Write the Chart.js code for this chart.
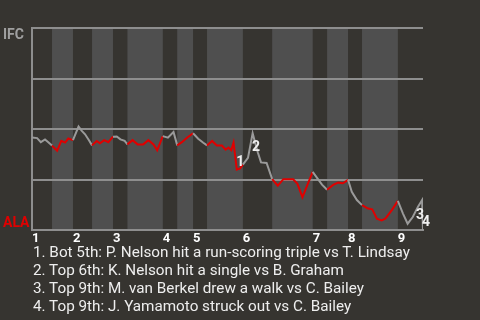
<!DOCTYPE html>
<html>
<head>
<meta charset="utf-8">
<script src="https://cdn.jsdelivr.net/npm/chart.js@4"></script>
<style>
    body { margin: 0; background: #363430; font-family: Roboto, sans-serif; overflow: hidden; }
    #wrap { position: relative; width: 480px; height: 320px; }
    #chart { position: absolute; left: 0; top: 0; }
    #notes { position: absolute; left: 33px; top: 243px; color: #eeeeee; font-size: 15.25px; line-height: 18px; white-space: nowrap; }
</style>
</head>
<body>
<div id="wrap">
    <canvas id="chart" width="480" height="320"></canvas>
    <div id="notes"></div>
</div>
<script>
// Game data: IFC (away) at Alabama (home), IFC win probability in %
const innings = ['1', '2', '3', '4', '5', '6', '7', '8', '9'];
// start of every half-inning, in plays (top 1, bot 1, top 2, ...)
const halfStarts = [0, 4.3, 8.8, 12.9, 17.4, 20.5, 28.1, 31.2, 34.6, 37.6, 45.3, 51.6, 60.3, 63.4, 67.9, 70.9, 78.6];
const gameEnd = 84;

const playX = [
    0, 1.1, 1.9, 2.8, 3.5, 4.3,
    5.4, 6.3, 7.1, 7.8, 8.8,
    10.0, 10.7, 11.4, 12.1, 12.9,
    13.9, 14.6, 15.5, 16.4, 17.4,
    18.2, 19.0, 19.9, 20.5,
    21.6, 22.7, 23.9, 25.0, 26.1, 26.9, 28.1,
    29.2, 30.4, 31.2,
    32.2, 33.3, 34.6,
    35.7, 36.8, 37.6,
    38.7, 39.7, 40.8, 41.6, 42.2, 42.8, 43.3, 44.0, 44.7, 45.3,
    46.4, 47.4, 48.5, 49.2, 50.4, 51.6,
    52.8, 54.0, 55.1, 56.1, 57.0, 58.1, 60.3,
    61.2, 62.3, 63.4,
    64.7, 65.8, 66.8, 67.9,
    68.7, 69.8, 70.9,
    72.2, 73.1, 74.1, 75.1, 75.9, 77.3, 78.6,
    79.7, 80.7, 81.8, 82.9, 83.8, 84.0
];
const ifcWinPct = [
    45.9, 45.6, 43.6, 44.9, 43.6, 41.9,
    39.4, 44.2, 43.4, 45.4, 44.6,
    51.3, 49.2, 47.5, 45.0, 42.0,
    44.2, 43.0, 44.6, 43.6, 46.3,
    46.4, 45.0, 44.2, 42.5,
    44.6, 42.5, 42.5, 44.6, 42.5, 39.6, 46.6,
    45.8, 48.6, 42.0,
    43.6, 45.8, 48.0,
    45.3, 43.3, 42.0,
    44.2, 42.0, 41.9, 39.9, 40.9, 39.6, 43.4, 30.0, 30.6, 32.5,
    35.8, 48.0, 38.6, 33.6, 33.3, 25.3,
    22.1, 25.3, 25.3, 25.3, 23.1, 16.4, 28.9,
    26.1, 22.6, 20.1,
    22.5, 23.6, 23.3, 25.0,
    19.1, 15.0, 12.5,
    10.8, 10.4, 5.8, 4.9, 5.8, 10.0, 14.6,
    8.3, 3.3, 6.6, 11.6, 15.0, 0
];

// key plays: index into playX / ifcWinPct
const notePlays = [48, 52, 85, 86];
const noteTexts = [
    'Bot 5th: P. Nelson hit a run-scoring triple vs T. Lindsay',
    'Top 6th: K. Nelson hit a single vs B. Graham',
    'Top 9th: M. van Berkel drew a walk vs C. Bailey',
    'Top 9th: J. Yamamoto struck out vs C. Bailey'
];
// where each note number sits relative to its play
const noteOffsets = [[3.5, -7.5], [3.3, 14.5], [-2, 15.5], [3, -8]];

const BAND = '#4f4f4f';
const GRID = '#8e8e8e';
const GRAY = '#9a9a9a';
const RED = '#e00000';

document.getElementById('notes').innerHTML = noteTexts
    .map((t, i) => `<div>${i + 1}. ${t}</div>`).join('');

// bottom half-innings have odd index in halfStarts
function isBottomHalf(x) {
    let idx = 0;
    for (let i = 0; i < halfStarts.length; i++) {
        if (x >= halfStarts[i]) idx = i;
    }
    return idx % 2 === 1;
}

const bandsPlugin = {
    id: 'bands',
    beforeDraw(chart) {
        const {ctx, chartArea, scales: {x}} = chart;
        ctx.save();
        for (let i = 1; i < halfStarts.length; i += 2) {
            const x0 = x.getPixelForValue(halfStarts[i]);
            const x1 = x.getPixelForValue(i + 1 < halfStarts.length ? halfStarts[i + 1] : gameEnd);
            ctx.fillStyle = BAND;
            ctx.fillRect(x0, chartArea.top, x1 - x0, chartArea.bottom - chartArea.top);
        }
        ctx.restore();
    }
};

const labelsPlugin = {
    id: 'labels',
    afterDatasetsDraw(chart) {
        const {ctx, scales: {x, y}} = chart;
        ctx.save();
        ctx.font = 'bold 14px Roboto';
        ctx.textAlign = 'left';
        ctx.textBaseline = 'alphabetic';
        ctx.fillStyle = '#a0a0a0';
        ctx.fillText('IFC', 3, y.getPixelForValue(100) + 11);
        ctx.fillStyle = RED;
        ctx.fillText('ALA', 3, y.getPixelForValue(0) - 3.3);

        ctx.fillStyle = '#f0f0f0';
        ctx.textAlign = 'center';
        ctx.textBaseline = 'middle';
        notePlays.forEach((p, i) => {
            const px = x.getPixelForValue(playX[p]) + noteOffsets[i][0];
            const py = y.getPixelForValue(ifcWinPct[p]) + noteOffsets[i][1];
            ctx.fillText(String(i + 1), px, py);
        });
        ctx.restore();
    }
};

new Chart(document.getElementById('chart'), {
    type: 'line',
    data: {
        datasets: [{
            data: playX.map((v, i) => ({x: v, y: ifcWinPct[i]})),
            borderWidth: 2,
            pointRadius: 0,
            tension: 0,
            borderColor: GRAY,
            segment: {
                borderColor: seg => isBottomHalf((seg.p0.parsed.x + seg.p1.parsed.x) / 2) ? RED : GRAY
            }
        }]
    },
    options: {
        responsive: false,
        animation: false,
        layout: {
            padding: {left: 32, right: 57, top: 28, bottom: 72}
        },
        plugins: {
            legend: {display: false},
            tooltip: {enabled: false}
        },
        scales: {
            x: {
                type: 'linear',
                min: 0,
                max: gameEnd,
                afterBuildTicks: axis => {
                    axis.ticks = halfStarts.filter((v, i) => i % 2 === 0).map(v => ({value: v}));
                },
                ticks: {
                    callback: (v, i) => innings[i],
                    align: 'start',
                    autoSkip: false,
                    maxRotation: 0,
                    padding: 1,
                    color: '#ffffff',
                    font: {family: 'Roboto', weight: 'bold', size: 13}
                },
                grid: {display: false, drawTicks: false, tickLength: 0},
                border: {color: GRID, width: 2}
            },
            y: {
                min: 0,
                max: 100,
                ticks: {display: false, stepSize: 25},
                grid: {color: GRID, lineWidth: 2, drawTicks: false, tickLength: 0},
                border: {color: GRID, width: 2}
            }
        }
    },
    plugins: [bandsPlugin, labelsPlugin]
});
</script>
</body>
</html>
